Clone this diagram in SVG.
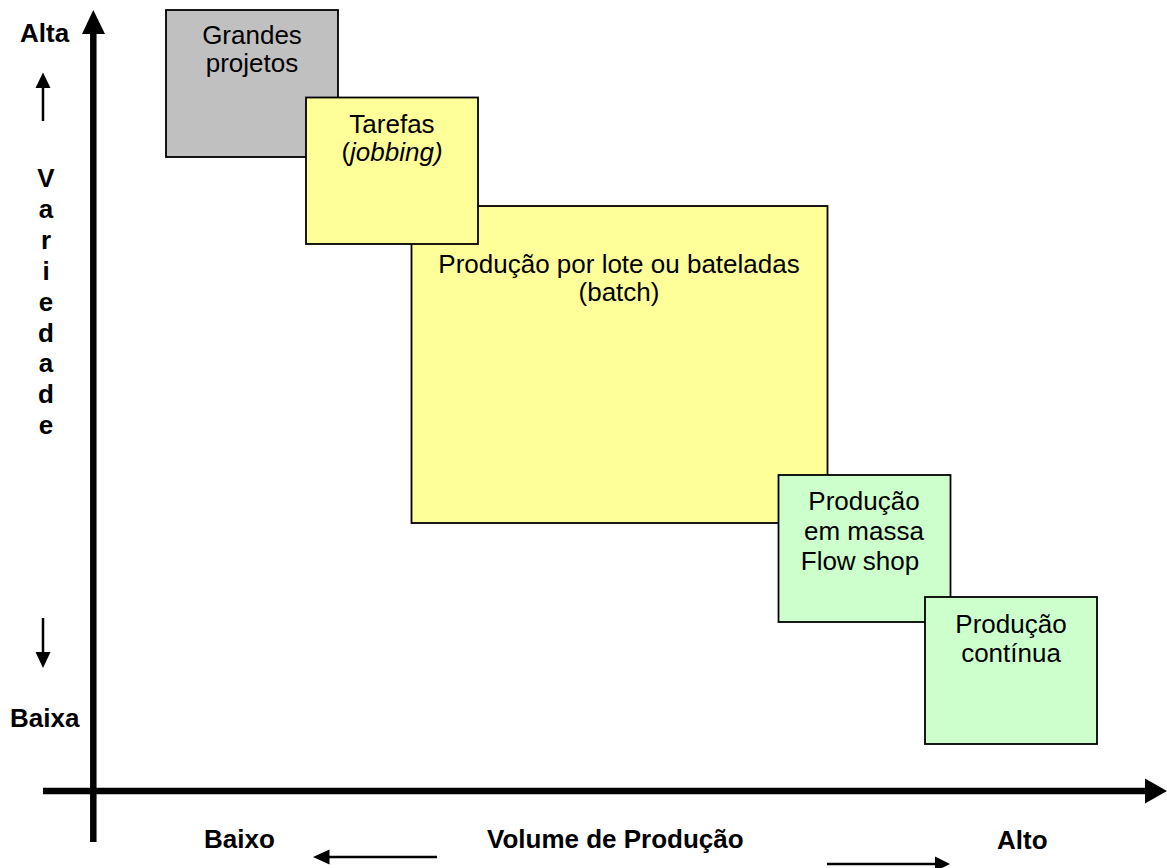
<svg xmlns="http://www.w3.org/2000/svg" width="1167" height="868" viewBox="0 0 1167 868">
  <style>
    .box { stroke: #000; stroke-width: 1.8; }
    .grey { fill: #C0C0C0; }
    .yellow { fill: #FFFF99; }
    .green { fill: #CCFFCC; }
    .t { font-family: "Liberation Sans", Arial, sans-serif; font-size: 26px; fill: #000; text-anchor: middle; }
    .lbl { font-family: "Liberation Sans", Arial, sans-serif; font-size: 26px; font-weight: bold; fill: #000; }
    .axis { stroke: #000; stroke-width: 6.5; fill: none; }
    .thin { stroke: #000; stroke-width: 2.5; fill: none; }
    .head { fill: #000; }
  </style>

  <!-- axes and direction arrows -->
  <g id="connectors">
    <line class="axis" x1="93.3" y1="842" x2="93.3" y2="30"/>
    <polygon class="head" points="93.3,10 105,34 82,34"/>
    <line class="axis" x1="43" y1="791" x2="1148" y2="791"/>
    <polygon class="head" points="1167,791 1145,778.5 1145,803.5"/>

    <line class="thin" x1="43" y1="121" x2="43" y2="84"/>
    <polygon class="head" points="43,72.5 50.5,88 35.5,88"/>
    <line class="thin" x1="43" y1="618" x2="43" y2="655"/>
    <polygon class="head" points="43,668 50.5,652 35.5,652"/>

    <line class="thin" x1="437" y1="857" x2="326" y2="857"/>
    <polygon class="head" points="313,857 329.5,849.5 329.5,864.5"/>
    <line class="thin" x1="827" y1="864" x2="938" y2="864"/>
    <polygon class="head" points="950,864 935,856.5 935,871.5"/>
  </g>

  <!-- axis labels -->
  <g id="labels">
    <text class="lbl" x="20" y="42">Alta</text>
    <text class="lbl" x="10" y="727">Baixa</text>
    <g class="lbl" text-anchor="middle">
      <text x="46" y="187">V</text>
      <text x="46" y="218">a</text>
      <text x="46" y="249">r</text>
      <text x="46" y="280">i</text>
      <text x="46" y="311">e</text>
      <text x="46" y="342">d</text>
      <text x="46" y="372">a</text>
      <text x="46" y="403">d</text>
      <text x="46" y="434">e</text>
    </g>
    <text class="lbl" x="204" y="848">Baixo</text>
    <text class="lbl" x="487" y="848">Volume de Produção</text>
    <text class="lbl" x="997" y="849">Alto</text>
  </g>

  <g id="grandes-projetos">
    <rect class="box grey" x="166" y="10" width="172" height="147"/>
    <text class="t" x="252" y="44">Grandes</text>
    <text class="t" x="252" y="72">projetos</text>
  </g>

  <g id="batch">
    <rect class="box yellow" x="411.5" y="206" width="416" height="317"/>
    <text class="t" x="619" y="273">Produção por lote ou bateladas</text>
    <text class="t" x="619" y="301">(batch)</text>
  </g>

  <g id="tarefas">
    <rect class="box yellow" x="306" y="97.5" width="172" height="146.5"/>
    <text class="t" x="392" y="133">Tarefas</text>
    <text class="t" x="392" y="161">(<tspan font-style="italic">jobbing)</tspan></text>
  </g>

  <g id="flow-shop">
    <rect class="box green" x="778.5" y="475" width="172" height="147"/>
    <text class="t" x="864" y="510">Produção</text>
    <text class="t" x="864" y="540">em massa</text>
    <text class="t" x="860" y="570">Flow shop</text>
  </g>

  <g id="continua">
    <rect class="box green" x="925" y="597" width="172" height="147"/>
    <text class="t" x="1011" y="633">Produção</text>
    <text class="t" x="1011" y="662">contínua</text>
  </g>
</svg>
